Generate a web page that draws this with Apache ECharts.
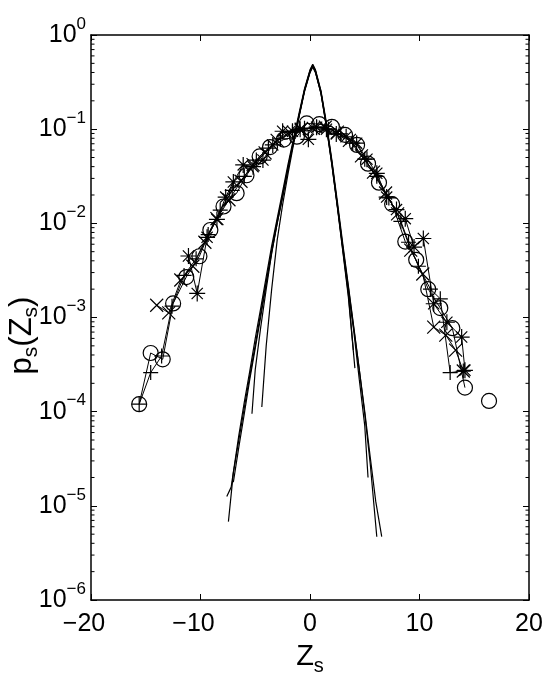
<!DOCTYPE html>
<html>
<head>
<meta charset="utf-8">
<script src="https://cdn.jsdelivr.net/npm/echarts@6/dist/echarts.min.js"></script>
<style>
html,body{margin:0;padding:0;background:#fff;}
#chart{width:554px;height:692px;}
</style>
</head>
<body>
<div id="chart"></div>
<script>
// ---------- data ----------
// wide distributions (marker series)
const circX = [-15.6,-14.55,-13.45,-12.5,-11.3,-10.1,-9.1,-7.9,-6.7,-5.8,-4.6,-3.65,-2.4,-1.2,-0.3,0.85,2.0,3.2,4.3,5.3,6.3,7.5,8.7,9.7,10.8,11.9,13.0,14.15,15.2,16.35];
const circP = [1.2e-4,4.2e-4,3.6e-4,1.41e-3,2.69e-3,4.47e-3,8.5e-3,0.0151,0.0209,0.0324,0.0513,0.0646,0.0776,0.0832,0.115,0.113,0.106,0.087,0.068,0.043,0.027,0.016,0.0064,0.0041,0.0020,0.00126,7.7e-4,1.8e-4,null,1.3e-4];

const starX = [-11.1,-10.3,-9.4,-8.5,-7.7,-7.0,-6.1,-5.2,-4.3,-3.4,-2.5,-1.6,-0.9,-0.15,0.6,1.5,2.4,3.3,4.26,5.2,6.1,7.0,7.9,8.7,9.5,10.35,11.3,12.5,13.85,14.15];
const starP = [4.5e-3,1.8e-3,7.1e-3,0.011,0.019,0.0275,0.0417,0.040,0.047,0.068,0.095,0.095,0.1,0.078,0.105,0.1,0.089,0.083,0.071,0.048,0.034,0.019,0.014,0.0112,5.6e-3,6.9e-3,1.4e-3,8.9e-4,6.2e-4,2.75e-4];

const xmkX = [-14.0,-12.9,-11.8,-10.7,-9.6,-8.5,-7.4,-6.3,-5.2,-4.1,-3.0,-1.9,-0.8,0.3,1.4,2.5,3.6,4.7,5.8,6.9,8.0,9.2,10.3,11.3,12.4,13.3,14.0];
const xmkP = [1.35e-3,1.12e-3,2.5e-3,3.5e-3,6.3e-3,0.0112,0.0178,0.028,0.042,0.056,0.076,0.093,0.1,0.102,0.105,0.093,0.076,0.052,0.035,0.021,0.0126,5.2e-3,2.9e-3,7.9e-4,6.5e-4,4.5e-4,2.7e-4];

const plusX = [-15.6,-14.55,-13.55,-12.6,-11.5,-10.4,-9.3,-8.2,-7.1,-6.0,-4.9,-3.8,-2.7,-1.6,-0.5,0.6,1.7,2.8,3.9,5.0,6.1,7.2,8.3,9.0,9.9,11.0,11.9,12.8,14.0];
const plusP = [1.2e-4,2.6e-4,3.9e-4,1.32e-3,2.8e-3,4.2e-3,7.6e-3,0.0138,0.0224,0.0316,0.047,0.063,0.079,0.093,0.102,0.105,0.1,0.089,0.071,0.048,0.0316,0.0186,0.0105,6.3e-3,3.5e-3,2.0e-3,1.58e-3,2.6e-4,2.7e-4];

// narrow distributions (plain lines)
const n1X = [-7.45,-7.0,-6.5,-6.0,-5.5,-5.0,-4.5,-4.0,-3.5,-3.0,-2.5,-2.0,-1.5,-1.0,-0.5,0.0,0.25,0.5,1.0,1.5,2.0,2.5,3.0,3.5,4.0,4.5,5.0,5.5,6.0,6.55];
const n1P = [6.8e-6,2.24e-5,5.0e-5,1.1e-4,2.4e-4,5.1e-4,1.12e-3,2.4e-3,5.2e-3,0.0105,0.020,0.040,0.076,0.141,0.263,0.417,0.479,0.417,0.251,0.112,0.0447,0.0158,5.6e-3,2.1e-3,7.6e-4,2.8e-4,1.0e-4,3.3e-5,1.12e-5,4.7e-6];
const n2X = [-7.6,-7.2,-6.5,-6.0,-5.5,-5.0,-4.5,-4.0,-3.5,-3.0,-2.5,-2.0,-1.5,-1.0,-0.5,0.0,0.25,0.5,1.0,1.5,2.0,2.5,3.0,3.5,4.0,4.5,5.0,5.5,6.1];
const n2P = [1.26e-5,1.58e-5,5.6e-5,1.26e-4,2.7e-4,6.0e-4,1.26e-3,2.7e-3,5.75e-3,0.0112,0.0219,0.0427,0.0794,0.148,0.269,0.427,0.49,0.427,0.257,0.117,0.0468,0.017,6.0e-3,2.2e-3,7.9e-4,2.8e-4,9.5e-5,2.8e-5,4.7e-6];
const n3X = [-5.3,-5.0,-4.5,-4.0,-3.5,-3.0,-2.5,-2.0,-1.5,-1.0,-0.5,0.0,0.25,0.5,1.0,1.5,2.0,2.5,3.0,3.5,4.0,4.5,5.0,5.3];
const n3P = [9.5e-5,2.8e-4,7.9e-4,2.0e-3,4.8e-3,0.01,0.0195,0.038,0.074,0.138,0.257,0.407,0.468,0.407,0.245,0.11,0.0437,0.0155,5.4e-3,1.9e-3,7.1e-4,2.2e-4,7.1e-5,2.0e-5];
const n4X = [-4.4,-4.0,-3.5,-3.0,-2.5,-2.0,-1.5,-1.0,-0.5,0.0,0.25,0.5,1.0,1.5,2.0,2.5,3.0,3.5,4.1];
const n4P = [1.12e-4,5.0e-4,2.0e-3,6.6e-3,0.0158,0.0339,0.0692,0.135,0.251,0.398,0.457,0.398,0.24,0.107,0.0417,0.0148,5.0e-3,1.66e-3,2.9e-4];
const n5X = [-7.0,-6.5,-6.0,-5.5,-5.0,-4.5,-4.0,-3.5,-3.0,-2.5,-2.0,-1.5,-1.0,-0.5,0.0,0.25,0.5,1.0,1.5,2.0,2.5,3.0,3.5,3.96];
const n5P = [1.78e-5,4.2e-5,9.5e-5,2.2e-4,4.7e-4,1.02e-3,2.24e-3,4.9e-3,0.01,0.019,0.038,0.0724,0.138,0.257,0.407,0.468,0.407,0.24,0.105,0.0417,0.0151,5.2e-3,1.78e-3,4.5e-4];

// axis ticks
const xTicks = [-20,-10,0,10,20];
const yDecades = [1e-6,1e-5,1e-4,1e-3,1e-2,1e-1,1];
const yMinorTicks = [];
for (let e = -6; e < 0; e++) for (let m = 2; m <= 9; m++) yMinorTicks.push(m * Math.pow(10, e));

// ---------- chart ----------
const FONT = '"Liberation Sans", Arial, Helvetica, sans-serif';
const zip = (xs, ps) => xs.map((x, i) => [x, ps[i] === null ? '-' : ps[i]]);
const SYM_X = 'path://M0,0L10,10M10,0L0,10';
const SYM_PLUS = 'path://M5,0L5,10M0,5L10,5';
const SYM_STAR = 'path://M5,0L5,10M0,5L10,5M1.5,1.5L8.5,8.5M8.5,1.5L1.5,8.5';

function markerSeries(name, xs, ps, symbol, size) {
  return {
    name, type: 'line', data: zip(xs, ps), symbol, symbolSize: size,
    showSymbol: true, connectNulls: false,
    lineStyle: { color: '#000', width: 1 },
    itemStyle: { color: 'transparent', borderColor: '#000', borderWidth: 1.2 },
    z: 3
  };
}
function plainSeries(name, xs, ps) {
  return {
    name, type: 'line', data: zip(xs, ps), showSymbol: false, symbol: 'none',
    lineStyle: { color: '#000', width: 1.2 }, z: 2
  };
}
function supLabel(v) {
  const e = Math.round(Math.log10(v));
  const es = e < 0 ? '\u2212' + (-e) : String(e);
  return '{b|10}{e|' + es + '}';
}
function xLabel(v) {
  return v < 0 ? '{m|\u2212' + (-v) + '}' : '{p|' + v + '}';
}
const frameLine = { show: true, onZero: false, lineStyle: { color: '#000', width: 1.5 } };
const tick = { show: true, inside: true, length: 6, lineStyle: { color: '#000' } };

const chart = echarts.init(document.getElementById('chart'), null, { renderer: 'canvas' });
chart.setOption({
  animation: false,
  backgroundColor: '#fff',
  grid: { left: 91, right: 25, top: 35, bottom: 92, containLabel: false, outerBoundsMode: 'none' },
  xAxis: [{
    type: 'value', min: -20, max: 20, interval: 10, position: 'bottom',
    axisLine: frameLine, axisTick: tick, splitLine: { show: false },
    axisLabel: { color: '#000', margin: 12, formatter: xLabel,
      rich: {
        m: { fontFamily: FONT, fontSize: 25, color: '#000', padding: [0, 14, 0, 0] },
        p: { fontFamily: FONT, fontSize: 25, color: '#000' }
      } },
    name: '{n|Z}{s|s}', nameLocation: 'middle', nameGap: 38, nameMoveOverlap: false,
    nameTextStyle: { rich: {
      n: { fontFamily: FONT, fontSize: 29, color: '#000' },
      s: { fontFamily: FONT, fontSize: 20, color: '#000', padding: [18, 0, 0, 0] }
    } }
  }, {
    type: 'value', min: -20, max: 20, interval: 10, position: 'top',
    axisLine: frameLine, axisTick: tick, splitLine: { show: false }, axisLabel: { show: false }
  }],
  yAxis: [{
    type: 'log', logBase: 10, min: 1e-6, max: 1, position: 'left',
    axisLine: frameLine, axisTick: tick, splitLine: { show: false },
    axisLabel: { color: '#000', margin: 5, formatter: supLabel,
      rich: {
        b: { fontFamily: FONT, fontSize: 25, color: '#000' },
        e: { fontFamily: FONT, fontSize: 17, color: '#000', padding: [0, 0, 22, 0] }
      } },
    name: '{n|p}{s|s}{n|(Z}{s|s}{n|)}', nameLocation: 'middle', nameGap: 49, nameRotate: 90,
    nameMoveOverlap: false,
    nameTextStyle: { padding: [0, 36, 0, 0], rich: {
      n: { fontFamily: FONT, fontSize: 31, color: '#000' },
      s: { fontFamily: FONT, fontSize: 21, color: '#000', padding: [18, 0, 0, 0] }
    } }
  }, {
    type: 'log', logBase: 10, min: 1e-6, max: 1, position: 'right',
    axisLine: frameLine, axisTick: tick, splitLine: { show: false }, axisLabel: { show: false }
  }],
  series: [
    plainSeries('n1', n1X, n1P),
    plainSeries('n2', n2X, n2P),
    plainSeries('n3', n3X, n3P),
    plainSeries('n4', n4X, n4P),
    plainSeries('n5', n5X, n5P),
    markerSeries('circles', circX, circP, 'circle', 15),
    markerSeries('stars', starX, starP, SYM_STAR, 16),
    markerSeries('crosses', xmkX, xmkP, SYM_X, 13),
    markerSeries('plus', plusX, plusP, SYM_PLUS, 15),
    {
      name: 'minorTicks', type: 'custom', silent: true, clip: false,
      data: yMinorTicks.map(v => [-20, v]),
      renderItem: function (params, api) {
        const cs = params.coordSys;
        const y = api.coord([-20, api.value(1)])[1];
        return { type: 'group', children: [
          { type: 'line', shape: { x1: cs.x, y1: y, x2: cs.x + 3.5, y2: y }, style: { stroke: '#000', lineWidth: 1 } },
          { type: 'line', shape: { x1: cs.x + cs.width, y1: y, x2: cs.x + cs.width - 3.5, y2: y }, style: { stroke: '#000', lineWidth: 1 } }
        ] };
      },
      z: 1
    }
  ]
});
</script>
</body>
</html>
